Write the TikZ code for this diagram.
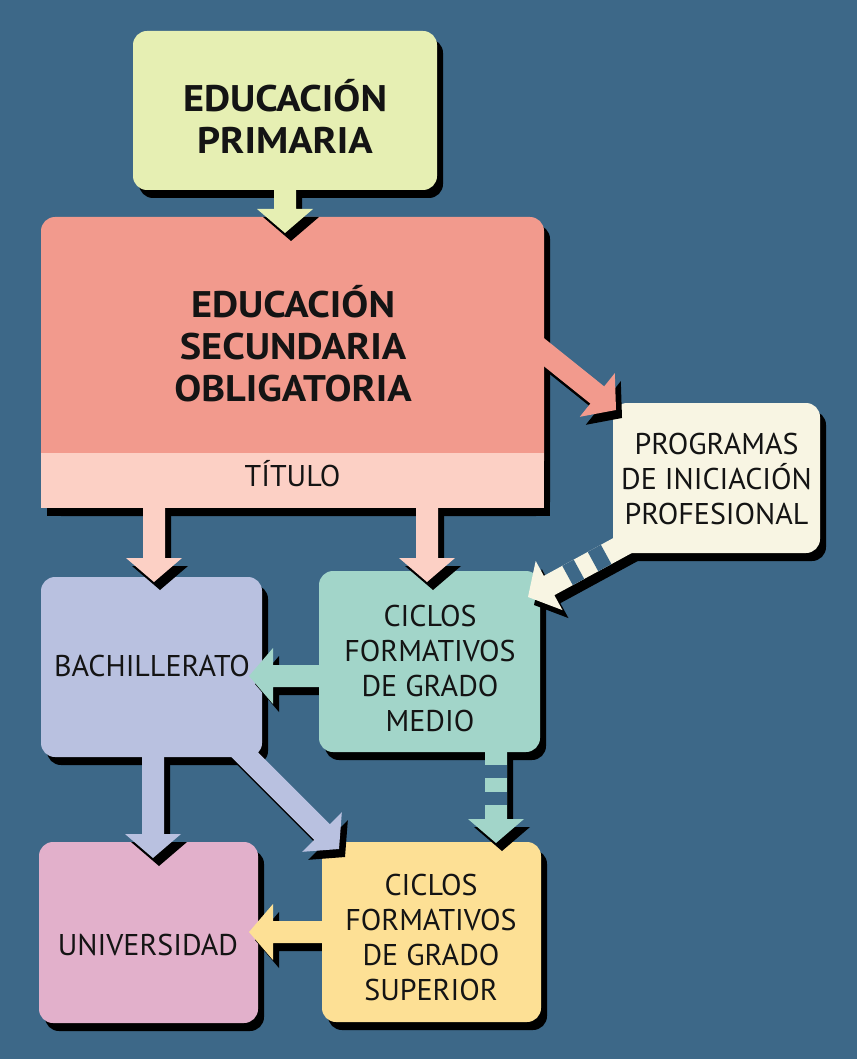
\documentclass[tikz,border=0pt]{standalone}
\usepackage{fontspec}
\setmainfont{PT Sans}
\newfontfamily\boldwide{PT Sans}[FakeStretch=1.09]
\usetikzlibrary{calc,shadows}
\definecolor{bg}{HTML}{3D6888}
\definecolor{primc}{HTML}{E6EFB3}
\definecolor{esoc}{HTML}{F29A8D}
\definecolor{titc}{HTML}{FCD0C5}
\definecolor{progc}{HTML}{F8F5E3}
\definecolor{bachc}{HTML}{B9C1E0}
\definecolor{cmc}{HTML}{A2D5C9}
\definecolor{univc}{HTML}{E2B0CB}
\definecolor{csc}{HTML}{FDE095}
\definecolor{txt}{HTML}{141414}
\tikzset{
  shad/.style={drop shadow={shadow xshift=6pt, shadow yshift=-8pt, fill=black, opacity=1}},
  box/.style={rounded corners=14pt, inner sep=0pt, outer sep=0pt, shad},
  sqbox/.style={inner sep=0pt, outer sep=0pt, shad},
  lbl/.style={align=center, text=txt, inner sep=0pt, font=\fontsize{30}{35}\selectfont},
  blbl/.style={align=center, text=txt, inner sep=0pt, font=\boldwide\fontsize{37}{42}\selectfont\bfseries},
}
\newcommand\blkarrow[3]{%
  \coordinate (hb) at ($(#2)!24pt!(#1)$);
  \fill[#3] ($(#1)!11pt!90:(#2)$) -- ($(hb)!11pt!-90:(#1)$) -- ($(hb)!28pt!-90:(#1)$)
    -- (#2) -- ($(hb)!28pt!90:(#1)$) -- ($(hb)!11pt!90:(#1)$) -- ($(#1)!11pt!-90:(#2)$) -- cycle;}
\newcommand\arrowshadow[2]{%
  \begin{scope}[transform canvas={shift={(6pt,-8pt)}}]\blkarrow{#1}{#2}{black}\end{scope}}
\newcommand\stripegap[3]{%
  \coordinate (ga) at ($(hb)!#2!(#1)$);
  \coordinate (gb) at ($(hb)!#3!(#1)$);
  \fill[bg] ($(ga)!11pt!90:(#1)$) -- ($(gb)!11pt!90:(#1)$) -- ($(gb)!11pt!-90:(#1)$) -- ($(ga)!11pt!-90:(#1)$) -- cycle;}
\begin{document}
\begin{tikzpicture}[x=1pt,y=-1pt]
\fill[bg] (0,0) rectangle (857,1059);
\useasboundingbox (0,0) rectangle (857,1059);
% arrow end coordinates
\coordinate (pe1) at (285,185);   \coordinate (pe2) at (285,233);
\coordinate (ep1) at (530,341);   \coordinate (ep2) at (616,410);
\coordinate (eb1) at (154,500);   \coordinate (eb2) at (154,582);
\coordinate (ec1) at (427,500);   \coordinate (ec2) at (427,582);
\coordinate (pc1) at (629,542);   \coordinate (pc2) at (528,597);
\coordinate (cb1) at (330,676);   \coordinate (cb2) at (249,676);
\coordinate (cs1) at (496,745);   \coordinate (cs2) at (496,843);
\coordinate (bu1) at (153,750);   \coordinate (bu2) at (153,858);
\coordinate (bc1) at (233,743);   \coordinate (bc2) at (339,849);
\coordinate (su1) at (330,932);   \coordinate (su2) at (249,932);
% boxes and arrow shadows, sinks first
\node[box, fill=univc, minimum width=219pt, minimum height=181pt] (univ) at (148.5,932.5) {};
\arrowshadow{bu1}{bu2}
\arrowshadow{su1}{su2}
\node[box, fill=csc, minimum width=219pt, minimum height=180pt] (cs) at (431.5,932) {};
\arrowshadow{bc1}{bc2}
\arrowshadow{cs1}{cs2}
\node[box, fill=bachc, minimum width=221pt, minimum height=180pt] (bach) at (151.5,667) {};
\arrowshadow{eb1}{eb2}
\arrowshadow{cb1}{cb2}
\node[box, fill=cmc, minimum width=221pt, minimum height=181pt] (cm) at (429.5,661.5) {};
\arrowshadow{ec1}{ec2}
\arrowshadow{pc1}{pc2}
\node[box, fill=progc, minimum width=207pt, minimum height=150pt] (prog) at (716.5,478) {};
\arrowshadow{ep1}{ep2}
\node[box, fill=esoc, minimum width=503pt, minimum height=291pt] (eso) at (292.5,362.5) {};
\node[sqbox, fill=titc, minimum width=503pt, minimum height=55pt] (titulo) at (292.5,480.5) {};
\arrowshadow{pe1}{pe2}
\node[box, fill=primc, minimum width=304pt, minimum height=159pt] (prim) at (285,110.5) {};
% arrow bodies
\blkarrow{pe1}{pe2}{primc}
\blkarrow{ep1}{ep2}{esoc}
\blkarrow{eb1}{eb2}{titc}
\blkarrow{ec1}{ec2}{titc}
\blkarrow{pc1}{pc2}{progc}
\stripegap{pc1}{21pt}{34pt}
\stripegap{pc1}{50pt}{65pt}
\blkarrow{cb1}{cb2}{cmc}
\blkarrow{cs1}{cs2}{cmc}
\stripegap{cs1}{14pt}{27pt}
\stripegap{cs1}{41pt}{54pt}
\blkarrow{bu1}{bu2}{bachc}
\blkarrow{bc1}{bc2}{bachc}
\blkarrow{su1}{su2}{csc}
% texts
\node[blbl] (primt) at (285,116) {EDUCACIÓN\\PRIMARIA};
\node[blbl] (esot) at (293,343.5) {EDUCACIÓN\\SECUNDARIA\\OBLIGATORIA};
\node[lbl] (titt) at (292.5,474) {TÍTULO};
\node[lbl] (progt) at (716.5,479) {PROGRAMAS\\DE INICIACIÓN\\PROFESIONAL};
\node[lbl] (bacht) at (152,666) {BACHILLERATO};
\node[lbl] (cmt) at (430,668.5) {CICLOS\\FORMATIVOS\\DE GRADO\\MEDIO};
\node[lbl] (univt) at (148,945) {UNIVERSIDAD};
\node[lbl] (cst) at (431,937) {CICLOS\\FORMATIVOS\\DE GRADO\\SUPERIOR};
\end{tikzpicture}
\end{document}
